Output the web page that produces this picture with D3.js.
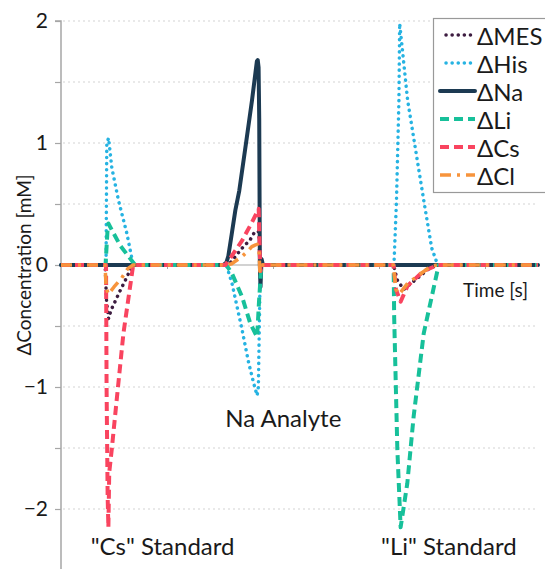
<!DOCTYPE html>
<html><head><meta charset="utf-8">
<script src="https://cdn.jsdelivr.net/npm/d3@7"></script>
<style>
body{margin:0;background:#fff}
svg{display:block}
text{font-family:Lato,"Open Sans",sans-serif;fill:#1a1a1a}
</style>
</head><body>
<svg id="chart" width="545" height="569"></svg>
<script>
// ---- data (time in arbitrary units, ΔConcentration in mM) ----
const xTicks = [0, 1, 2, 3, 4];
const yTicks = [-2, -1, 0, 1, 2];
const yMinorTicks = [-2.5, -2, -1.5, -1, -0.5, 0, 0.5, 1, 1.5, 2];
const yGrid = [-2, -1.5, -1, -0.5, 0.5, 1, 1.5, 2];
const seriesNames = ["ΔMES", "ΔHis", "ΔNa", "ΔLi", "ΔCs", "ΔCl"];

const mesT = [0, 0.416, 0.43, 0.449, 0.472, 0.558, 0.621, 0.652, 0.68, 1.58, 1.682, 1.73, 1.78, 1.82, 1.85, 1.868, 1.876, 3.138, 3.17, 3.233, 3.345, 3.47, 3.55, 4.5];
const mesV = [0, 0, -0.3, -0.44, -0.37, -0.21, -0.1, -0.04, 0, 0, 0.11, 0.16, 0.2, 0.26, 0.28, 0.27, 0, 0, -0.12, -0.2, -0.12, -0.03, 0, 0];

const hisT = [0, 0.425, 0.432, 0.449, 0.479, 0.542, 0.621, 0.681, 1.56, 1.613, 1.708, 1.770, 1.818, 1.850, 1.862, 1.88, 3.141, 3.165, 3.188, 3.195, 3.270, 3.422, 3.497, 3.554, 4.5];
const hisV = [0, 0, 1.0, 1.04, 0.8, 0.53, 0.26, 0, 0, -0.15, -0.53, -0.8, -0.97, -1.07, -1.0, 0, 0, 0.53, 1.35, 1.98, 1.35, 0.53, 0.14, 0, 0];

const naT = [0, 1.531, 1.56, 1.578, 1.61, 1.645, 1.682, 1.749, 1.802, 1.835, 1.848, 1.856, 1.864, 1.870, 1.876, 1.882, 1.892, 1.905, 4.5];
const naV = [0, 0, 0.02, 0.07, 0.25, 0.45, 0.61, 1.02, 1.35, 1.58, 1.67, 1.68, 1.62, 1.2, 0.0, -0.18, 0.05, 0, 0];

const liT = [0, 0.42, 0.44, 0.447, 0.558, 0.699, 1.56, 1.613, 1.708, 1.786, 1.850, 1.868, 1.89, 3.138, 3.143, 3.173, 3.204, 3.267, 3.327, 3.422, 3.563, 4.5];
const liV = [0, 0, 0.3, 0.34, 0.16, 0, 0, -0.07, -0.26, -0.48, -0.59, -0.3, 0, 0, -0.42, -1.51, -2.15, -1.79, -1.24, -0.56, 0, 0];

const csT = [0, 0.425, 0.43, 0.44, 0.447, 0.455, 0.479, 0.526, 0.589, 0.681, 1.55, 1.60, 1.708, 1.802, 1.865, 1.875, 1.882, 1.89, 3.138, 3.160, 3.204, 3.27, 3.42, 3.555, 4.5];
const csV = [0, 0, -1.0, -1.9, -2.15, -1.7, -1.51, -1.1, -0.56, 0, 0, 0.06, 0.2, 0.35, 0.46, 0.1, -0.05, 0, 0, -0.2, -0.3, -0.17, -0.05, 0, 0];

const clT = [0, 0.416, 0.425, 0.447, 0.50, 0.57, 0.63, 0.68, 1.56, 1.61, 1.708, 1.77, 1.80, 1.85, 1.868, 1.876, 1.89, 3.135, 3.16, 3.19, 3.27, 3.38, 3.49, 3.55, 4.5];
const clV = [0, 0, -0.18, -0.24, -0.18, -0.11, -0.03, 0, 0, 0.01, 0.07, 0.12, 0.15, 0.17, 0.12, -0.05, 0, 0, -0.2, -0.24, -0.15, -0.08, -0.01, 0, 0];

const annotations = [
  {text: "Na Analyte", t: 1.55, v: -1.33},
  {text: "\"Cs\" Standard", t: 0.28, v: -2.38},
  {text: "\"Li\" Standard", t: 3.02, v: -2.38}
];

// ---- layout / styles ----
const W = 545, H = 569;
const svg = d3.select("#chart");
const x = d3.scaleLinear().domain([0, 4.5]).range([61, 538]);
const y = d3.scaleLinear().domain([-2.5, 2]).range([570, 21]);

const styles = [
  {color: "#3d1c40", width: 3.5, dash: "0.1,6", cap: "round"},
  {color: "#26b3e2", width: 3.5, dash: "0.1,6", cap: "round"},
  {color: "#1c3a52", width: 4, dash: null, cap: "round"},
  {color: "#17c09a", width: 4, dash: "9,5", cap: "butt"},
  {color: "#f9445f", width: 4, dash: "9,5", cap: "butt"},
  {color: "#f7943c", width: 3.5, dash: "11,6,3,6", cap: "butt"}
];
const seriesT = [mesT, hisT, naT, liT, csT, clT];
const seriesV = [mesV, hisV, naV, liV, csV, clV];

// grid
svg.append("g").selectAll("line").data(yGrid).join("line")
  .attr("x1", x(0) + 2).attr("x2", x(4.5))
  .attr("y1", d => y(d)).attr("y2", d => y(d))
  .attr("stroke", "#d4d4d4").attr("stroke-width", 1.2).attr("stroke-dasharray", "2,3");

// y axis
const yAxis = d3.axisLeft(y).tickValues(yMinorTicks).tickSize(6)
  .tickFormat(d => yTicks.includes(d) ? d3.format("d")(d) : "");
const ga = svg.append("g").attr("transform", `translate(${x(0)},0)`).call(yAxis);
ga.select(".domain").attr("stroke", "#a6a6a6").attr("stroke-width", 1.5).attr("d", `M-6,${y(2)}H0V${H}`);
ga.selectAll(".tick line").attr("stroke", "#a6a6a6").attr("stroke-width", 1.2);
ga.selectAll(".tick text").attr("x", -13).attr("font-size", 21).attr("font-family", "Lato").attr("fill", "#1a1a1a");

// x axis (at zero)
const xAxis = d3.axisBottom(x).tickValues(xTicks.slice(1)).tickSize(4).tickFormat("");
const gx = svg.append("g").attr("transform", `translate(0,${y(0)})`).call(xAxis);
gx.select(".domain").attr("stroke", "#a6a6a6").attr("stroke-width", 1.2).attr("d", `M${x(0)},0H${x(4.5)}`);
gx.selectAll(".tick line").attr("stroke", "#a6a6a6");

// series
const line = d3.line().x(d => x(d[0])).y(d => y(d[1]));
seriesNames.forEach((name, i) => {
  const pts = seriesT[i].map((t, k) => [t, seriesV[i][k]]);
  const s = styles[i];
  svg.append("path").datum(pts).attr("d", line)
    .attr("fill", "none").attr("stroke", s.color).attr("stroke-width", s.width)
    .attr("stroke-linecap", s.cap).attr("stroke-linejoin", "round")
    .attr("stroke-dasharray", s.dash);
});

// axis titles
svg.append("text").attr("transform", `translate(23,${y(0)}) rotate(-90)`)
  .attr("text-anchor", "middle").attr("dominant-baseline", "central")
  .attr("font-size", 19).text("ΔConcentration [mM]");
svg.append("text").attr("x", 528).attr("y", 297).attr("text-anchor", "end")
  .attr("font-size", 19).text("Time [s]");

// annotations
svg.append("g").selectAll("text").data(annotations).join("text")
  .attr("x", d => x(d.t)).attr("y", d => y(d.v))
  .attr("font-size", 24).text(d => d.text);

// legend
const lg = svg.append("g");
lg.append("rect").attr("x", 433.5).attr("y", 18.5).attr("width", 120).attr("height", 174)
  .attr("fill", "#fff").attr("stroke", "#999").attr("stroke-width", 1.2);
seriesNames.forEach((name, i) => {
  const cy = 35 + i * 28;
  const s = styles[i];
  lg.append("line").attr("x1", i < 2 ? 446 : 440).attr("x2", 475).attr("y1", cy).attr("y2", cy)
    .attr("stroke", s.color).attr("stroke-width", s.width)
    .attr("stroke-linecap", s.cap).attr("stroke-dasharray", s.dash);
  lg.append("text").attr("x", 477).attr("y", cy).attr("dominant-baseline", "central")
    .attr("font-size", 24).text(name);
});
</script>
</body></html>
